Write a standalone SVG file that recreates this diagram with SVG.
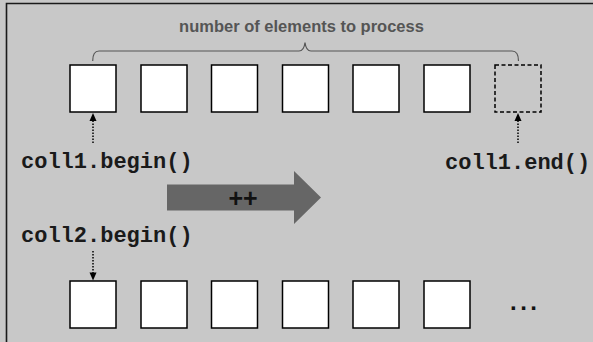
<svg xmlns="http://www.w3.org/2000/svg" width="593" height="342" viewBox="0 0 593 342">
<style>
.box{fill:#fff;stroke:#000;stroke-width:1.5}
.dbox{fill:none;stroke:#000;stroke-width:1.5;stroke-dasharray:4 2.5}
.dot{stroke:#000;stroke-width:1.5;stroke-dasharray:1.5 1.5;fill:none}
.head{fill:#000}
.code{font-family:"Liberation Mono","Courier New",monospace;font-weight:bold;font-size:22px;fill:#1a1a1a}
.lbl{font-family:"Liberation Sans",Arial,sans-serif;font-weight:bold;fill:#555}
</style>
<rect x="0" y="0" width="593" height="342" fill="#c8c8c8"/>
<path d="M6.5,345 V3.5 H596" fill="none" stroke="#1a1a1a" stroke-width="1.6"/>
<g id="label-count">
<text class="lbl" x="301.5" y="32" font-size="16.5" text-anchor="middle">number of elements to process</text>
<path d="M92.7,61 Q92.7,51 99,51 L299,51 Q304,51 305,42.5 Q306,51 311,51 L512,51 Q518.5,51 518.5,61" fill="none" stroke="#555" stroke-width="1.2"/>
</g>
<g id="row1">
<rect class="box" x="70" y="65" width="46" height="47"/>
<rect class="box" x="141" y="65" width="46" height="47"/>
<rect class="box" x="211.5" y="65" width="46" height="47"/>
<rect class="box" x="282.5" y="65" width="46" height="47"/>
<rect class="box" x="353" y="65" width="46" height="47"/>
<rect class="box" x="424" y="65" width="46" height="47"/>
<rect class="dbox" x="495" y="65" width="46" height="47"/>
</g>
<g id="row2">
<rect class="box" x="70" y="281" width="46" height="47"/>
<rect class="box" x="141" y="281" width="46" height="47"/>
<rect class="box" x="211.5" y="281" width="46" height="47"/>
<rect class="box" x="282.5" y="281" width="46" height="47"/>
<rect class="box" x="353" y="281" width="46" height="47"/>
<rect class="box" x="424" y="281" width="46" height="47"/>
<text x="510" y="310" font-family="Liberation Sans,Arial,sans-serif" font-weight="bold" font-size="24" letter-spacing="3.5" fill="#111">...</text>
</g>
<g id="coll1-begin">
<text class="code" x="21" y="168">coll1.begin()</text>
</g>
<g id="coll1-end">
<text class="code" x="445" y="169">coll1.end()</text>
</g>
<g id="coll2-begin">
<text class="code" x="21" y="242">coll2.begin()</text>
</g>
<g id="increment">
<polygon points="167,184.5 294,184.5 294,171 321,197.5 294,224 294,210.5 167,210.5" fill="#666"/>
<text x="243" y="207" font-family="Liberation Sans,Arial,sans-serif" font-weight="bold" font-size="25" text-anchor="middle" fill="#111">++</text>
</g>
<g id="connectors">
<line class="dot" x1="93" y1="143" x2="93" y2="120"/>
<polygon class="head" points="93,113 89.5,121 96.5,121"/>
<line class="dot" x1="518" y1="143" x2="518" y2="120"/>
<polygon class="head" points="518,113 514.5,121 521.5,121"/>
<line class="dot" x1="93" y1="251" x2="93" y2="273"/>
<polygon class="head" points="93,280.5 89.5,272.5 96.5,272.5"/>
</g>
</svg>
